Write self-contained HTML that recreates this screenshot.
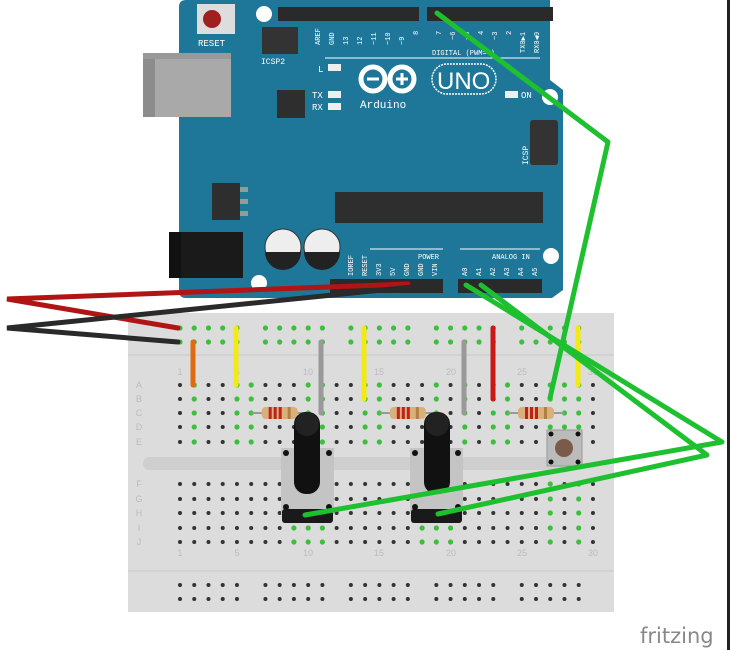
<!DOCTYPE html>
<html><head><meta charset="utf-8"><style>
html,body{margin:0;padding:0;background:#fff;width:730px;height:650px;overflow:hidden}
svg{display:block}
</style></head><body>
<svg id="s" width="730" height="650" viewBox="0 0 730 650" xmlns="http://www.w3.org/2000/svg" font-family="Liberation Mono, monospace">
<rect x="727" y="0" width="3" height="650" fill="#222"/>
<path d="M186 0 H550 V80 L563 90 V290 L552 298 H186 Q179 298 179 291 V7 Q179 0 186 0 Z" fill="#1e7799"/>
<circle cx="264" cy="14" r="8" fill="#fff"/>
<circle cx="550" cy="97" r="8" fill="#fff"/>
<circle cx="551" cy="256" r="8" fill="#fff"/>
<circle cx="259" cy="283" r="8" fill="#fff"/>
<rect x="143" y="53" width="88" height="64" fill="#a9a9a9"/>
<rect x="143" y="53" width="12" height="64" fill="#8c8c8c"/>
<rect x="143" y="53" width="88" height="6" fill="#999"/>
<rect x="197" y="4" width="38" height="30" fill="#ddd"/>
<circle cx="212" cy="19" r="9" fill="#a02020"/>
<text x="198" y="46" font-size="9" fill="#fff">RESET</text>
<rect x="262" y="27" width="36" height="27" fill="#333"/>
<text x="261" y="64" font-size="8" fill="#fff">ICSP2</text>
<rect x="278" y="7" width="141" height="14" fill="#2a2a2a"/>
<rect x="427" y="7" width="126" height="14" fill="#2a2a2a"/>
<line x1="325" y1="58" x2="540" y2="58" stroke="#fff" stroke-width="1"/>
<text x="432" y="55" font-size="7" fill="#fff">DIGITAL (PWM=~)</text>
<g font-size="7" fill="#fff">
<text transform="translate(320,45) rotate(-90)">AREF</text>
<text transform="translate(334,45) rotate(-90)">GND</text>
<text transform="translate(348,45) rotate(-90)">13</text>
<text transform="translate(362,45) rotate(-90)">12</text>
<text transform="translate(376,45) rotate(-90)">~11</text>
<text transform="translate(390,45) rotate(-90)">~10</text>
<text transform="translate(404,45) rotate(-90)">~9</text>
<text transform="translate(418,35) rotate(-90)">8</text>
<text transform="translate(441,35) rotate(-90)">7</text>
<text transform="translate(455,40) rotate(-90)">~6</text>
<text transform="translate(469,40) rotate(-90)">~5</text>
<text transform="translate(483,35) rotate(-90)">4</text>
<text transform="translate(497,40) rotate(-90)">~3</text>
<text transform="translate(511,35) rotate(-90)">2</text>
<text transform="translate(525,53) rotate(-90)">TX0▶1</text>
<text transform="translate(539,53) rotate(-90)">RX0◀0</text>
</g>
<text x="318" y="72" font-size="9" fill="#fff">L</text>
<rect x="328" y="64" width="13" height="7" fill="#eee"/>
<text x="312" y="98" font-size="9" fill="#fff">TX</text>
<rect x="328" y="91" width="13" height="7" fill="#eee"/>
<text x="312" y="110" font-size="9" fill="#fff">RX</text>
<rect x="328" y="103" width="13" height="7" fill="#eee"/>
<rect x="505" y="91" width="13" height="7" fill="#eee"/>
<text x="521" y="98" font-size="9" fill="#fff">ON</text>
<rect x="277" y="90" width="28" height="28" fill="#2e2e2e"/>
<circle cx="373" cy="79" r="12" fill="none" stroke="#fff" stroke-width="5"/>
<circle cx="402" cy="79" r="12" fill="none" stroke="#fff" stroke-width="5"/>
<rect x="367" y="77.5" width="12" height="3" fill="#fff"/>
<rect x="396" y="77.5" width="12" height="3" fill="#fff"/>
<rect x="400.5" y="73" width="3" height="12" fill="#fff"/>
<rect x="432" y="64" width="64" height="30" rx="15" fill="none" stroke="#fff" stroke-width="1.5" stroke-dasharray="2 1"/>
<text x="437" y="89" font-size="24" fill="#fff" font-family="Liberation Sans, sans-serif">UNO</text>
<text x="360" y="108" font-size="11" fill="#fff">Arduino</text>
<rect x="530" y="120" width="28" height="45" rx="3" fill="#333"/>
<text transform="translate(528,165) rotate(-90)" font-size="8" fill="#fff">ICSP</text>
<rect x="212" y="183" width="28" height="37" fill="#2e2e2e"/>
<rect x="240" y="187" width="8" height="5" fill="#999"/><rect x="240" y="199" width="8" height="5" fill="#999"/><rect x="240" y="211" width="8" height="5" fill="#999"/>
<rect x="335" y="192" width="208" height="31" fill="#2e2e2e"/>
<rect x="169" y="232" width="74" height="46" fill="#1a1a1a"/>
<rect x="169" y="232" width="12" height="46" fill="#111"/>
<circle cx="283" cy="247" r="18" fill="#eee" stroke="#333"/>
<path d="M265 252 H301 A18 18 0 0 1 265 252 Z" fill="#222"/>
<circle cx="322" cy="247" r="18" fill="#eee" stroke="#333"/>
<path d="M304 252 H340 A18 18 0 0 1 304 252 Z" fill="#222"/>
<line x1="370" y1="249" x2="443" y2="249" stroke="#fff"/>
<text x="418" y="259" font-size="7" fill="#fff">POWER</text>
<line x1="460" y1="249" x2="540" y2="249" stroke="#fff"/>
<text x="492" y="259" font-size="7" fill="#fff">ANALOG IN</text>
<g font-size="7" fill="#fff">
<text transform="translate(353,276) rotate(-90)">IOREF</text>
<text transform="translate(367,276) rotate(-90)">RESET</text>
<text transform="translate(381,276) rotate(-90)">3V3</text>
<text transform="translate(395,276) rotate(-90)">5V</text>
<text transform="translate(409,276) rotate(-90)">GND</text>
<text transform="translate(423,276) rotate(-90)">GND</text>
<text transform="translate(437,276) rotate(-90)">VIN</text>
<text transform="translate(467,276) rotate(-90)">A0</text>
<text transform="translate(481,276) rotate(-90)">A1</text>
<text transform="translate(495,276) rotate(-90)">A2</text>
<text transform="translate(509,276) rotate(-90)">A3</text>
<text transform="translate(523,276) rotate(-90)">A4</text>
<text transform="translate(537,276) rotate(-90)">A5</text>
</g>
<rect x="330" y="279" width="113" height="14" fill="#2a2a2a"/>
<rect x="458" y="279" width="84" height="14" fill="#2a2a2a"/>
<rect x="128" y="313" width="486" height="299" fill="#dcdcdc"/>
<line x1="128" y1="355" x2="614" y2="355" stroke="#c8c8c8"/>
<line x1="128" y1="571" x2="614" y2="571" stroke="#c8c8c8"/>
<rect x="143" y="457" width="422" height="13" rx="6.5" fill="#cfcfcf"/>
<g id="dots"></g>
<g font-size="9" fill="#bbb" font-family="Liberation Sans, sans-serif" text-anchor="middle">
<text x="180" y="375">1</text><text x="237" y="375">5</text><text x="308" y="375">10</text><text x="379" y="375">15</text><text x="451" y="375">20</text><text x="522" y="375">25</text><text x="593" y="375">30</text>
<text x="180" y="556">1</text><text x="237" y="556">5</text><text x="308" y="556">10</text><text x="379" y="556">15</text><text x="451" y="556">20</text><text x="522" y="556">25</text><text x="593" y="556">30</text>
<text x="139" y="388">A</text><text x="139" y="402">B</text><text x="139" y="416">C</text><text x="139" y="430">D</text><text x="139" y="445">E</text>
<text x="139" y="487">F</text><text x="139" y="502">G</text><text x="139" y="516">H</text><text x="139" y="531">I</text><text x="139" y="545">J</text>
</g>
<g stroke-linecap="round" stroke-width="5">
<line x1="193" y1="342" x2="193" y2="385" stroke="#e06a10"/>
<line x1="236" y1="328" x2="236" y2="385" stroke="#f2ea10"/>
<line x1="321" y1="342" x2="321" y2="413" stroke="#999"/>
<line x1="364" y1="328" x2="364" y2="399" stroke="#f2ea10"/>
<line x1="464" y1="342" x2="464" y2="413" stroke="#999"/>
<line x1="493" y1="328" x2="493" y2="399" stroke="#c81818"/>
<line x1="578" y1="328" x2="578" y2="385" stroke="#f2ea10"/>
</g>
<g id="res"></g>
<g id="pots"></g>
<rect x="547" y="430" width="35" height="36" fill="#bbb" stroke="#999"/>
<circle cx="551" cy="434" r="2.5" fill="#111"/><circle cx="578" cy="434" r="2.5" fill="#111"/>
<circle cx="551" cy="462" r="2.5" fill="#111"/><circle cx="578" cy="462" r="2.5" fill="#111"/>
<circle cx="564" cy="448" r="9" fill="#7a5a48"/>
<g stroke-linecap="round" stroke-width="5" fill="none">
<polyline points="408,284 7,299 178,328" stroke="#b01414"/>
<polyline points="422,286 7,328 178,342" stroke="#2a2a2a"/>
</g>
<g id="wires" stroke-linecap="round" stroke-linejoin="round" stroke-width="5" fill="none" stroke="#1ec030">
<polyline points="437,13 608,142 550,398"/>
<polyline points="466,285 722,442 305,515"/>
<polyline points="481,285 707,455 438,514"/>
</g>
<text x="640" y="643" font-size="21" fill="#888" font-family="DejaVu Sans, sans-serif">fritzing</text>
</svg>
<script>
(function(){
var NS="http://www.w3.org/2000/svg";
function el(p,t,a){var e=document.createElementNS(NS,t);for(var k in a)e.setAttribute(k,a[k]);p.appendChild(e);return e;}
var d=document.getElementById("dots");
function cx(c){return 180+(c-1)*14.24;}
var rails=[[1,5],[7,11],[13,17],[19,23],[25,29]];
[328,342].forEach(function(y){rails.forEach(function(g){for(var c=g[0];c<=g[1];c++)el(d,"circle",{cx:cx(c),cy:y,r:2.6,fill:"#3cbf3c"});});});
[585,599].forEach(function(y){rails.forEach(function(g){for(var c=g[0];c<=g[1];c++)el(d,"circle",{cx:cx(c),cy:y,r:2,fill:"#333"});});});
var rowsTop=[385,399,413,427,442],rowsBot=[484,499,513,528,542];
var gTop={2:1,5:1,6:1,10:1,11:1,14:1,15:1,19:1,21:1,23:1,24:1,28:1,27:1,29:1};
var gBot={9:1,10:1,11:1,18:1,19:1,20:1,27:1,29:1};
for(var c=1;c<=30;c++){
 rowsTop.forEach(function(y){if(gTop[c])el(d,"circle",{cx:cx(c),cy:y,r:2.6,fill:"#3cbf3c"});else el(d,"circle",{cx:cx(c),cy:y,r:2,fill:"#333"});});
 rowsBot.forEach(function(y){if(gBot[c])el(d,"circle",{cx:cx(c),cy:y,r:2.6,fill:"#3cbf3c"});else el(d,"circle",{cx:cx(c),cy:y,r:2,fill:"#333"});});
}
var r=document.getElementById("res");
[[6,10],[15,19],[24,28]].forEach(function(p){
 var x1=cx(p[0]),x2=cx(p[1]),m=(x1+x2)/2;
 el(r,"line",{x1:x1,y1:413,x2:x2,y2:413,stroke:"#999","stroke-width":2});
 el(r,"rect",{x:m-18,y:407,width:36,height:12,rx:4,fill:"#d9b07a"});
 [m-11,m-6,m-1].forEach(function(x){el(r,"rect",{x:x,y:407,width:3,height:12,fill:"#c02020"});});
 el(r,"rect",{x:m+8,y:407,width:3,height:12,fill:"#b08040"});
});
var pt=document.getElementById("pots");
[[281,307],[410,437]].forEach(function(p){
 var x=p[0],c=p[1];
 el(pt,"rect",{x:x,y:448,width:53,height:66,fill:"#c4c4c4"});
 el(pt,"rect",{x:x+1,y:509,width:51,height:14,rx:3,fill:"#1a1a1a"});
 [[x+5,453],[x+48,453],[x+5,507],[x+48,507]].forEach(function(q){el(pt,"circle",{cx:q[0],cy:q[1],r:3,fill:"#111"});});
 el(pt,"rect",{x:c-13,y:412,width:26,height:82,rx:12,fill:"#111"});
 el(pt,"ellipse",{cx:c,cy:424,rx:12,ry:12,fill:"#222"});
});
})();
</script>
</body></html>
